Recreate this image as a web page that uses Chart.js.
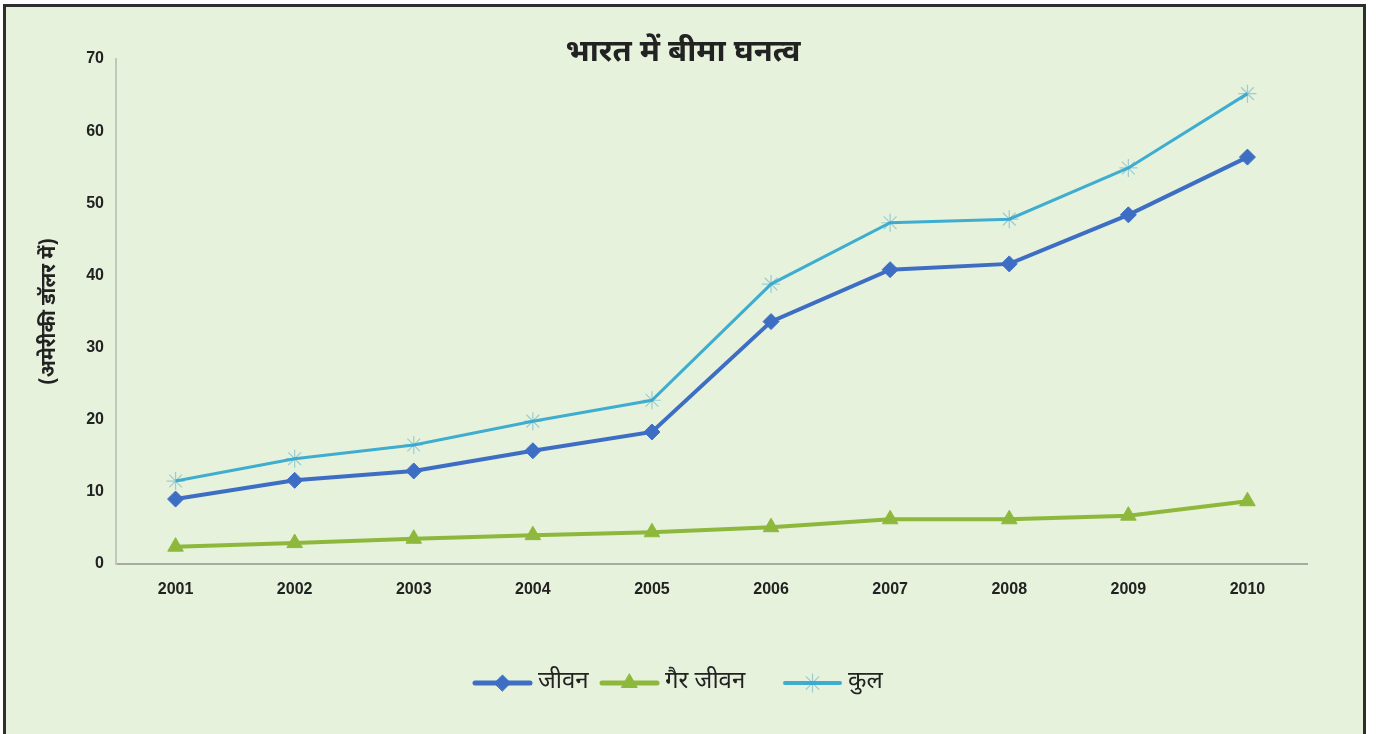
<!DOCTYPE html>
<html>
<head>
<meta charset="utf-8">
<script src="https://cdn.jsdelivr.net/npm/chart.js@4.4.1/dist/chart.umd.min.js"></script>
<style>
  body { margin: 0; background: #fff; overflow: hidden; }
  #frame {
    position: absolute; left: 3px; top: 4px;
    width: 1357px; height: 800px;
    border: 3px solid #2e2e2e; border-bottom: none;
    background: #e6f2dc;
  }
  #chart { position: absolute; left: 0; top: 0; }
</style>
</head>
<body>
<div id="frame"></div>
<canvas id="chart" width="1376" height="734"></canvas>
<script>
const years = ["2001", "2002", "2003", "2004", "2005", "2006", "2007", "2008", "2009", "2010"];
const life = [9.0, 11.6, 12.9, 15.7, 18.3, 33.6, 40.8, 41.6, 48.4, 56.4];
const nonLife = [2.4, 2.9, 3.5, 4.0, 4.4, 5.1, 6.2, 6.2, 6.7, 8.7];
const total = [11.5, 14.6, 16.5, 19.8, 22.7, 38.8, 47.3, 47.8, 54.9, 65.2];
const yTicks = [0, 10, 20, 30, 40, 50, 60, 70];

const titleText = "भारत में बीमा घनत्व";
const yTitle = "(अमेरीकी डॉलर में)";
const seriesNames = ["जीवन", "गैर जीवन", "कुल"];

const hindiFont = "'Noto Sans Devanagari', 'Noto Sans', 'Lohit Devanagari', sans-serif";
const numFont = "'Liberation Sans', Arial, sans-serif";

// title + custom legend (line with marker in the middle)
const decorations = {
  id: "decorations",
  afterDraw(chart) {
    const ctx = chart.ctx;
    ctx.save();
    ctx.fillStyle = "#222";
    ctx.font = "bold 31px " + hindiFont;
    ctx.textAlign = "center";
    ctx.textBaseline = "middle";
    ctx.fillText(titleText, 683, 55);

    const starts = [475, 602, 785];
    chart.data.datasets.forEach((ds, i) => {
      const x = starts[i], y = 683;
      ctx.strokeStyle = ds.borderColor;
      ctx.lineWidth = ds.borderWidth + 1;
      ctx.lineCap = "round";
      ctx.beginPath();
      ctx.moveTo(x, y);
      ctx.lineTo(x + 55, y);
      ctx.stroke();
      ctx.fillStyle = ds.pointBackgroundColor;
      ctx.strokeStyle = ds.pointBorderColor;
      ctx.lineWidth = ds.pointBorderWidth;
      Chart.helpers.drawPoint(ctx, {
        pointStyle: ds.pointStyle,
        radius: ds.pointRadius,
        borderWidth: ds.pointBorderWidth
      }, x + 27.5, y);
      ctx.fillStyle = "#222";
      ctx.font = "24px " + hindiFont;
      ctx.textAlign = "left";
      ctx.fillText(ds.label, x + 63, y + 1);
    });
    ctx.restore();
  }
};

new Chart(document.getElementById("chart"), {
  type: "line",
  data: {
    labels: years,
    datasets: [
      {
        label: seriesNames[0],
        data: life,
        borderColor: "#3d6ec4",
        borderWidth: 4,
        pointStyle: "rectRot",
        pointRadius: 8,
        pointBackgroundColor: "#3d6ec4",
        pointBorderColor: "#3d6ec4",
        pointBorderWidth: 1
      },
      {
        label: seriesNames[1],
        data: nonLife,
        borderColor: "#8db83c",
        borderWidth: 4,
        pointStyle: "triangle",
        pointRadius: 9,
        pointBackgroundColor: "#8db83c",
        pointBorderColor: "#8db83c",
        pointBorderWidth: 1
      },
      {
        label: seriesNames[2],
        data: total,
        borderColor: "#3fadd0",
        borderWidth: 3,
        pointStyle: "star",
        pointRadius: 9,
        pointBackgroundColor: "#3fadd0",
        pointBorderColor: "rgba(63,160,200,0.45)",
        pointBorderWidth: 1.2
      }
    ]
  },
  options: {
    responsive: false,
    animation: false,
    events: [],
    layout: { padding: { left: 39, top: 59, right: 69, bottom: 0 } },
    plugins: {
      legend: { display: false },
      title: { display: false },
      tooltip: { enabled: false }
    },
    scales: {
      x: {
        offset: true,
        grid: { display: false },
        border: { display: true, color: "#a9aaa2", width: 2 },
        ticks: {
          color: "#222",
          padding: 8,
          font: { family: numFont, size: 16, weight: "bold" }
        },
        afterFit(scale) { scale.height = 170; }
      },
      y: {
        min: 0,
        max: 70,
        afterBuildTicks(scale) { scale.ticks = yTicks.map(v => ({ value: v })); },
        grid: { display: false },
        border: { display: true, color: "#c4c6bc", width: 2 },
        ticks: {
          color: "#222",
          padding: 4,
          font: { family: numFont, size: 16, weight: "bold" }
        },
        title: {
          display: true,
          text: yTitle,
          color: "#222",
          padding: 0,
          font: { family: hindiFont, size: 20, weight: "bold" }
        },
        afterFit(scale) { scale.width = 77; }
      }
    }
  },
  plugins: [decorations]
});
</script>
</body>
</html>
